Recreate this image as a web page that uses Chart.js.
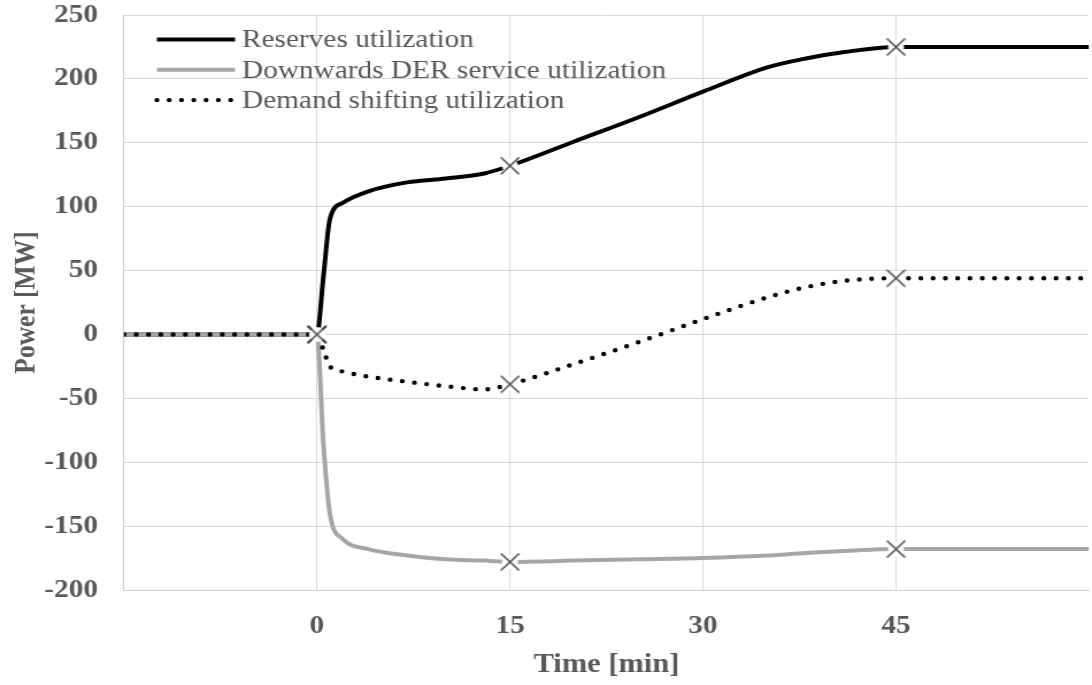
<!DOCTYPE html>
<html>
<head>
<meta charset="utf-8">
<script src="https://cdn.jsdelivr.net/npm/chart.js@4.4.0/dist/chart.umd.min.js"></script>
<style>
  html, body { margin: 0; padding: 0; background: #fff; }
  #wrap { width: 1092px; height: 685px; }
</style>
</head>
<body>
<div id="wrap">
  <!-- the original figure is a bit wider than tall in its text, so the bitmap is stretched -->
  <canvas id="powerChart" width="950" height="685" style="width:1092px;height:685px"></canvas>
</div>
<script>
// time axis (min) shared by all three series
const timeMin = [-15, 0, 0.5, 1, 2, 4, 7, 10, 13, 15, 20, 25, 30, 35, 38, 41, 45, 60];
const reserves = [0, 0, 45, 90, 103, 112, 119, 122, 126, 132, 151, 170, 190, 209, 216, 221, 225, 225];
const downwardsDer = [0, 0, -85, -140, -160, -168, -173, -176, -177, -178, -177, -176, -175, -173, -171, -169.5, -168, -168];
const demandShift = [0, 0, -12, -25, -29, -33, -37, -40.5, -43, -39, -23, -6, 12, 29, 37, 42, 44, 44];
const markerTimes = [0, 15, 45];
const xTicks = [0, 15, 30, 45];

const labelGrey = '#595959';
const serif = '"Liberation Serif", "Times New Roman", serif';
const fontSize = 25.5;

function toPoints(vals) {
  return timeMin.map((t, i) => ({ x: t, y: vals[i] }));
}

// X marker with a white halo, like the excel markers
const markerImg = document.createElement('canvas');
markerImg.width = 20;
markerImg.height = 20;
(function () {
  const m = markerImg.getContext('2d');
  m.fillStyle = '#ffffff';
  m.beginPath();
  m.arc(10, 10, 7, 0, Math.PI * 2);
  m.fill();
  m.strokeStyle = '#404040';
  m.lineWidth = 1.4;
  m.beginPath();
  m.moveTo(2, 1.5); m.lineTo(18, 18.5);
  m.moveTo(18, 1.5); m.lineTo(2, 18.5);
  m.stroke();
})();

const markerRadius = ctx => markerTimes.includes(timeMin[ctx.dataIndex]) ? 9 : 0;

function series(label, vals, extra) {
  return Object.assign({
    label: label,
    data: toPoints(vals),
    borderWidth: 4,
    fill: false,
    cubicInterpolationMode: 'monotone',
    pointStyle: markerImg,
    pointRadius: markerRadius,
    pointHoverRadius: markerRadius
  }, extra);
}

// legend drawn inside the plot, top-left
const legendInside = {
  id: 'legendInside',
  afterDraw(chart) {
    const { ctx, chartArea } = chart;
    ctx.save();
    chart.data.datasets.forEach((ds, i) => {
      const y = chartArea.top + 24.5 + i * 30.3;
      const x0 = chartArea.left + 28.7;
      ctx.beginPath();
      ctx.strokeStyle = ds.borderColor;
      ctx.lineWidth = ds.borderWidth;
      ctx.lineCap = ds.borderCapStyle || 'butt';
      ctx.setLineDash(ds.borderDash || []);
      ctx.moveTo(x0, y);
      ctx.lineTo(x0 + 68, y);
      ctx.stroke();
      ctx.setLineDash([]);
      ctx.fillStyle = labelGrey;
      ctx.font = fontSize + 'px ' + serif;
      ctx.textBaseline = 'middle';
      ctx.fillText(ds.label, x0 + 74, y + 1);
    });
    ctx.restore();
  }
};

const ctx1 = document.getElementById('powerChart').getContext('2d');
new Chart(ctx1, {
  type: 'line',
  data: {
    datasets: [
      series('Reserves utilization', reserves, { borderColor: '#000000', order: 2 }),
      series('Downwards DER service utilization', downwardsDer, { borderColor: '#a6a6a6', order: 1 }),
      series('Demand shifting utilization', demandShift, {
        borderColor: '#000000',
        borderWidth: 4.4,
        borderDash: [0, 10.7],
        borderCapStyle: 'round',
        order: 0
      })
    ]
  },
  options: {
    responsive: false,
    animation: false,
    layout: { padding: { top: 15, right: 2.6, left: 0, bottom: 0 } },
    plugins: {
      legend: { display: false },
      tooltip: { enabled: false }
    },
    scales: {
      x: {
        type: 'linear',
        min: -15,
        max: 60,
        afterFit: s => { s.height = 95; s.paddingLeft = 0; s.paddingRight = 0; },
        ticks: {
          stepSize: 15,
          autoSkip: false,
          maxRotation: 0,
          padding: 21,
          color: labelGrey,
          font: { family: serif, size: fontSize, weight: 'bold' },
          callback: v => xTicks.includes(v) ? v : ''
        },
        grid: {
          drawTicks: false,
          color: c => (c.tick && c.tick.value === 60) ? 'rgba(0,0,0,0)' : '#d9d9d9'
        },
        border: { color: '#cfcfcf' },
        title: {
          display: true,
          text: 'Time [min]',
          color: labelGrey,
          font: { family: serif, size: 26.5, weight: 'bold' },
          padding: { top: 0, bottom: 4 }
        }
      },
      y: {
        min: -200,
        max: 250,
        afterFit: s => { s.width = 107.8; s.paddingTop = 0; s.paddingBottom = 0; },
        ticks: {
          stepSize: 50,
          padding: 22.6,
          color: labelGrey,
          font: { family: serif, size: fontSize, weight: 'bold' }
        },
        grid: { drawTicks: false, color: '#d9d9d9' },
        border: { color: '#cfcfcf' },
        title: {
          display: true,
          text: 'Power [MW]',
          color: labelGrey,
          font: { family: serif, size: fontSize, weight: 'bold' },
          padding: { top: 8.5, bottom: 0 }
        }
      }
    }
  },
  plugins: [legendInside]
});
</script>
</body>
</html>
